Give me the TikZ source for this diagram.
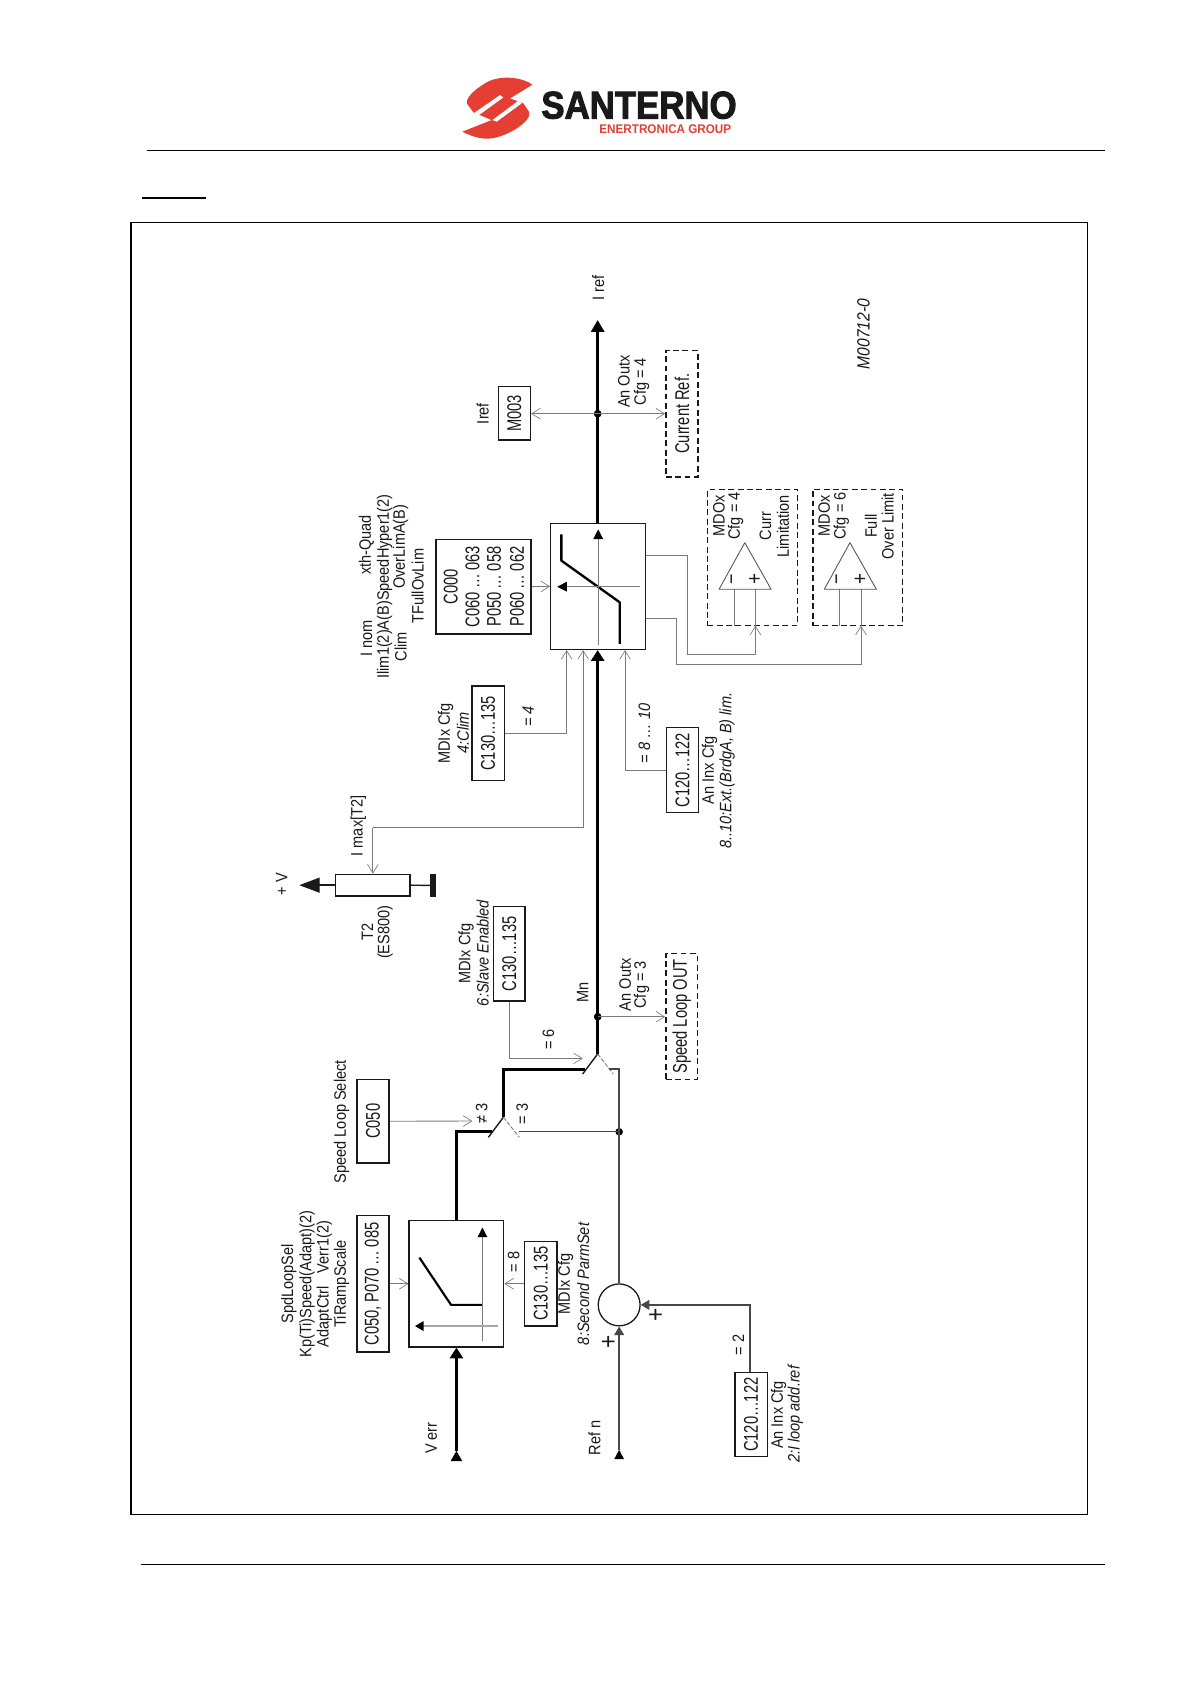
\documentclass[tikz,border=0pt]{standalone}
\usepackage{fontspec}
\usetikzlibrary{arrows.meta,calc}
\setmainfont[FakeStretch=0.88]{Liberation Sans}
\newfontfamily\boxfam[FakeStretch=0.74]{Liberation Sans}
\newfontfamily\logofam[FakeStretch=0.9,FakeBold=2.4]{Liberation Sans Bold}
\newfontfamily\subfam[FakeStretch=0.93]{Liberation Sans Bold}
\definecolor{wire}{gray}{0.48}
\definecolor{ink}{gray}{0.1}
\definecolor{logored}{HTML}{E53E33}
\tikzset{
  lb/.style={rotate=90,inner sep=0,align=center,text=ink,font={\fontsize{15.4}{17}\selectfont}},
  bx/.style={draw=ink,line width=1.3pt,inner sep=0,text=ink,font={\boxfam\fontsize{18.5}{20}\selectfont}},
  dbx/.style={draw=ink,line width=1.4pt,dash pattern=on 5.5pt off 3.2pt,inner sep=0,text=ink,font={\boxfam\fontsize{18.5}{20}\selectfont}},
  plain/.style={draw=ink,line width=1.3pt,inner sep=0},
  thin wire/.style={draw=wire,line width=0.8pt},
  open/.style={thin wire,-{Straight Barb[length=8pt,width=10pt,line width=0.6pt]}},
  mainline/.style={draw=black,line width=2.9pt},
  medline/.style={draw=ink,line width=1.3pt},
  dot/.style={circle,fill=black,inner sep=0,minimum size=7pt},
  blacktip/.style={-{Triangle[length=#1,width=9pt,color=black,fill=black]}},
}
\newcommand{\rt}[1]{\rotatebox{90}{#1}}
\begin{document}
\begin{tikzpicture}[x=1pt,y=-1pt]
\useasboundingbox[fill=white] (0,0) rectangle (1109,1568);
% page furniture
\coordinate (hl) at (137,140); \coordinate (hr) at (1029,140);
\draw[line width=1pt] (hl) -- (hr);
\coordinate (sl) at (132,184); \coordinate (sr) at (192,184);
\draw[line width=1.7pt] (sl) -- (sr);
\coordinate (fl) at (131,1457); \coordinate (fr) at (1029,1457);
\draw[line width=1.2pt] (fl) -- (fr);
\draw[line width=1pt] (122,207) rectangle (1013,1410);
% logo
\fill[logored] (495.7,78.9) .. controls (487,72) and (465,69) .. (451.6,77.6) .. controls (441,84) and (434,91) .. (434.6,96.2) -- (440.8,104.6) -- (457.8,111.8) -- (430.5,122.6) .. controls (441,128) and (450,130) .. (457.8,128.8) .. controls (472,127) and (496,113) .. (492.6,104) -- (487.3,96.2) -- (474.9,91.6) -- cycle;
\fill[white] (441.7,105) -- (465.6,88.5) -- (468.7,90.7) -- (446,107.1) -- cycle;
\fill[white] (458.5,111.8) -- (482.7,93.8) -- (485.8,96.2) -- (462.5,113.3) -- cycle;
\node[inner sep=0,text=ink] (logoa) at (595,98) {\logofam\fontsize{36}{36}\selectfont SANTERNO};
\node[inner sep=0,text=logored] (logob) at (619.5,120.5) {\subfam\fontsize{11.7}{12}\selectfont ENERTRONICA GROUP};
% ---------- boxes
\node[plain,minimum width=88pt,minimum height=117.5pt] (b1) at (425,1195.3) {};
\node[plain,minimum width=88.4pt,minimum height=117.3pt] (b2) at (557,546) {};
\node[bx,minimum width=30pt,minimum height=127pt] (pars) at (347.3,1195.5) {\rt{C050,\,P070\,…\,085}};
\node[bx,minimum width=30pt,minimum height=78pt] (c050) at (347.3,1044) {\rt{C050}};
\node[bx,minimum width=30pt,minimum height=78.7pt] (dia) at (503.5,1195.3) {\rt{C130…135}};
\node[bx,minimum width=30pt,minimum height=78.4pt] (anadd) at (699.4,1317.2) {\rt{C120…122}};
\node[bx,minimum width=29.5pt,minimum height=87.8pt] (dib) at (474.1,888.1) {\rt{C130…135}};
\node[bx,minimum width=30pt,minimum height=88.2pt] (dic) at (454.5,682.9) {\rt{C130…135}};
\node[bx,minimum width=30pt,minimum height=78.8pt] (anlim) at (635.5,717) {\rt{C120…122}};
\node[bx,minimum width=88.5pt,minimum height=88.1pt] (cpar) at (450.2,546.2) {};
\node[bx,minimum width=30pt,minimum height=49.7pt] (m003) at (478.9,384.9) {\rt{M003}};
\node[dbx,minimum width=29.4pt,minimum height=117pt] (slo) at (634.7,946.5) {\rt{Speed Loop OUT}};
\node[dbx,minimum width=30pt,minimum height=117.5pt] (cref) at (635,385.2) {\rt{Current Ref.}};
\node[dbx,minimum width=83.8pt,minimum height=127pt] (d1) at (700.6,519.1) {};
\node[dbx,minimum width=83.5pt,minimum height=127pt] (d2) at (798.7,519.1) {};
\node[plain,minimum width=69.2pt,minimum height=20.3pt] (t2) at (347.2,824.2) {};
\node[fill=ink,inner sep=0,minimum width=5.6pt,minimum height=21.2pt] (t2bar) at (403.2,824.4) {};
\node[circle,draw=ink,line width=1.2pt,inner sep=0,minimum size=39pt] (sum) at (576.5,1215) {};
% C000 box texts
\node[bx,draw=none,rotate=90] (ct1) at (419.8,546.2) {C000};
\node[bx,draw=none,rotate=90] (ct2) at (440,546.2) {C060\,…\,063};
\node[bx,draw=none,rotate=90] (ct3) at (460,546.2) {P050\,…\,058};
\node[bx,draw=none,rotate=90] (ct4) at (481.4,546.2) {P060\,…\,062};
% ---------- junctions
\coordinate (sw1) at (468.7,1040.3);
\coordinate (sw1a) at (454.7,1059);
\coordinate (sw1b) at (483.6,1059);
\coordinate (sw2) at (556.5,981.3);
\coordinate (sw2a) at (542.5,1000);
\coordinate (sw2b) at (571,1000);
\node[dot] (mn) at (556.5,946.7) {};
\node[dot] (ir) at (556.5,385.2) {};
\node[dot] (jn) at (576.5,1053.8) {};
% main path
\coordinate (vstart) at (425,1351);
\coordinate (rstart) at (576.5,1350);
\draw[mainline,-{Triangle[length=10pt,width=12pt]}] (vstart) -- (b1.south -| vstart);
\fill[black] (vstart) -- ++(-5.5,9.5) -- ++(11,0) -- cycle;
\fill[black] (rstart) -- ++(-4.5,8.5) -- ++(9,0) -- cycle;
\coordinate (k1) at (425,1053.8);
\coordinate (k2) at (468.7,995.5);
\draw[mainline,line join=miter] (b1.north -| k1) -- (k1) -- (458,1053.8);
\draw[mainline,line join=miter] (sw1) -- (k2) -- (544.7,995.5);
\draw[medline] (sw1) -- (sw1a);
\draw[medline] (sw2) -- (sw2a);
\draw[thin wire,dash pattern=on 4pt off 1.5pt] (sw1) -- (sw1b);
\draw[thin wire,dash pattern=on 4pt off 1.5pt] (sw2) -- (sw2b);
\draw[mainline] (sw2) -- (mn.center);
\draw[mainline,-{Triangle[length=10pt,width=12pt]}] (mn.center) -- (b2.south -| mn);
\draw[mainline] (b2.north -| mn) -- (ir.center);
\draw[mainline,-{Triangle[length=11pt,width=12pt]}] (ir.center) -- (556.5,298);
\fill (mn.center) circle (3.4pt);
\fill (ir.center) circle (3.4pt);
% medium right-hand path
\coordinate (k3) at (576.5,995.5);
\draw[medline,draw=ink!80] (567,995.5) -- (k3) -- (sum.north);
\draw[medline,draw=ink!80] (sw1b |- jn) -- (jn.center);
\draw[medline,draw=ink!80,-{Triangle[length=8pt,width=9pt]}] (rstart) -- (sum.south);
\coordinate (k4) at (698.5,1215);
\draw[medline,draw=ink!80,-{Triangle[length=8pt,width=9pt]}] (anadd.north -| k4) -- (k4) -- (sum.east);
% box 1 inside
\coordinate (c1a) at (390.5,1171); \coordinate (c1b) at (420,1215); \coordinate (c1c) at (449.2,1215);
\draw[line width=2pt,line join=round] (c1a) -- (c1b) -- (c1c);
\coordinate (c1d) at (449.2,1249); \coordinate (c1e) at (449.2,1143);
\draw[draw=wire,line width=0.8pt,blacktip=9pt] (c1d) -- (c1e);
\coordinate (c1f) at (464,1234.7); \coordinate (c1g) at (386.4,1234.7);
\draw[draw=gray!70,line width=1.1pt,blacktip=8pt] (c1f) -- (c1g);
% box 2 inside
\coordinate (c2a) at (522.7,497.5); \coordinate (c2b) at (522.7,522); \coordinate (c2c) at (577,560.8); \coordinate (c2d) at (577,599.6);
\draw[line width=2.2pt,line join=round] (c2a) -- (c2b) -- (c2c) -- (c2d);
\coordinate (c2e) at (557,600.6); \coordinate (c2f) at (557,492.9);
\draw[draw=wire,line width=0.8pt,blacktip=9pt] (c2e) -- (c2f);
\coordinate (c2g) at (596.3,546.3); \coordinate (c2h) at (518.8,546.3);
\draw[draw=wire,line width=0.8pt,blacktip=9pt] (c2g) -- (c2h);
% thin open-arrow connectors
\draw[open] (pars.east |- b1) -- (b1.west);
\draw[open] (dia.west) -- (b1.east |- dia);
\coordinate (k0) at (439.8,1043.8);
\draw[open] (c050.east) -- (k0);
\coordinate (k5) at (474.1,985.5);
\draw[open] (dib.south) -- (k5) -- (542.6,985.5);
\draw[open] (mn.center) -- (mn -| slo.west);
\draw[open] (ir.center) -- (ir -| m003.east);
\draw[open] (ir.center) -- (ir -| cref.west);
\draw[open] (cpar.east) -- (b2.west);
\coordinate (k6) at (527.6,682.9);
\draw[open] (dic.east) -- (k6) -- (k6 |- b2.south);
\coordinate (k7) at (582,717);
\draw[open] (anlim.west) -- (k7) -- (k7 |- b2.south);
\coordinate (k8) at (543,770.7); \coordinate (k9) at (347.2,770.7);
\draw[open] (k9) -- (t2.north);
\draw[open] (k9) -- (k8) -- (k8 |- b2.south);
% outputs of limiter
\coordinate (o1) at (601.2,517.4); \coordinate (o1a) at (640.3,517.4); \coordinate (o1b) at (640.3,609.3);
\coordinate (p1) at (703.4,548.7); \coordinate (n1) at (683.7,548.7);
\coordinate (o2) at (601.2,575.7); \coordinate (o2a) at (630,575.7); \coordinate (o2b) at (630,619);
\coordinate (p2) at (801.7,548.7); \coordinate (n2) at (781.6,548.7);
\coordinate (e1) at (703.4,582.6); \coordinate (e2) at (801.7,582.6);
\draw[open] (o1) -- (o1a) -- (o1b) -- (o1b -| p1) -- (e1);
\draw[open] (o2) -- (o2a) -- (o2b) -- (o2b -| p2) -- (e2);
\draw[thin wire] (e1) -- (p1);
\draw[thin wire] (n1 |- e1) -- (n1);
\draw[thin wire] (e2) -- (p2);
\draw[thin wire] (n2 |- e2) -- (n2);
% comparators
\coordinate (tr1) at (693.5,505.3); \coordinate (tr2) at (791.4,505.3);
\draw[thin wire,draw=ink!75,line join=round] (669.5,548.7) -- (tr1) -- (718,548.7) -- cycle;
\draw[thin wire,draw=ink!75,line join=round] (767.5,548.7) -- (tr2) -- (816,548.7) -- cycle;
% T2
\coordinate (vt) at (278.7,824.2);
\draw[medline,-{Triangle[length=19pt,width=14pt]}] (t2.west) -- (vt);
\draw[medline] (t2.east) -- (t2bar.west);
% ---------- labels
\node[lb] (l1) at (401.5,1339) {V err};
\node[lb] (l2) at (553.4,1339) {Ref n};
\node[lb] (l3) at (269,1195.5) {SpdLoopSel};
\node[lb] (l4) at (286,1195.5) {Kp(Ti)Speed(Adapt)(2)};
\node[lb] (l5) at (302,1195.5) {AdaptCtrl\hspace{12pt}Verr1(2)};
\node[lb] (l6) at (318,1195.5) {TiRampScale};
\node[lb] (l7) at (318,1044.5) {Speed Loop Select};
\node[lb] (l8) at (526.7,1195.5) {MDIx Cfg};
\node[lb] (l9) at (543,1195.5) {\itshape 8:Second ParmSet};
\node[lb] (l10) at (725,1317.5) {An Inx Cfg};
\node[lb] (l11) at (740.5,1317) {\itshape 2:I loop add.ref};
\node[lb] (l12) at (478.3,1174.8) {= 8};
\node[lb] (l13) at (448.5,1037) {≠ 3};
\node[lb] (l14) at (486.3,1037) {= 3};
\node[lb] (l15) at (510.6,968) {= 6};
\node[lb] (l16) at (687.5,1252.4) {= 2};
\node[lb,font={\fontsize{24}{24}\selectfont}] (l17) at (611.5,1224.5) {+};
\node[lb,font={\fontsize{24}{24}\selectfont}] (l18) at (567.5,1249) {+};
\node[lb] (l19) at (542.6,924) {Mn};
\node[lb] (l20) at (582,917) {An Outx};
\node[lb] (l21) at (597.5,917) {Cfg = 3};
\node[lb] (l22) at (434,887.7) {MDIx Cfg};
\node[lb] (l23) at (449.5,887.4) {\itshape 6:Slave Enabled};
\node[lb] (l24) at (262.3,823) {+ V};
\node[lb] (l25) at (342,868) {T2};
\node[lb] (l26) at (358.5,868) {(ES800)};
\node[lb] (l27) at (333.7,769) {I max[T2]};
\node[lb] (l28) at (415,682.8) {MDIx Cfg};
\node[lb] (l29) at (431,682.5) {\itshape 4:Clim};
\node[lb] (l30) at (491.7,667.3) {\itshape = 4};
\node[lb] (l31) at (600,682.8) {\itshape = 8 … 10};
\node[lb] (l32) at (660.8,717) {An Inx Cfg};
\node[lb] (l33) at (677,717.6) {\itshape 8..10:Ext.(BrdgA, B) lim.};
\node[lb] (l34) at (341.3,594.4) {I nom};
\node[lb] (l35) at (341.3,507.5) {xth-Quad};
\node[lb] (l36) at (358,546) {Ilim1(2)A(B)SpeedHyper1(2)};
\node[lb] (l37) at (373,602) {Clim};
\node[lb] (l38) at (373,509) {OverLimA(B)};
\node[lb] (l39) at (389,545.6) {TFullOvLim};
\node[lb] (l40) at (669.5,480.4) {MDOx};
\node[lb] (l41) at (685,480.4) {Cfg = 4};
\node[lb] (l42) at (712.6,490) {Curr};
\node[lb] (l43) at (729,490) {Limitation};
\node[lb] (l44) at (767.5,480.4) {MDOx};
\node[lb] (l45) at (783.5,480.4) {Cfg = 6};
\node[lb] (l46) at (811,490) {Full};
\node[lb] (l47) at (826.5,490) {Over Limit};
\node[lb,font={\fontsize{19}{20}\selectfont}] (l48) at (683.7,539.4) {−};
\node[lb,font={\fontsize{20}{20}\selectfont}] (l49) at (703.4,539.4) {+};
\node[lb,font={\fontsize{19}{20}\selectfont}] (l50) at (781.6,539.4) {−};
\node[lb,font={\fontsize{20}{20}\selectfont}] (l51) at (801.7,539.4) {+};
\node[lb] (l52) at (449.4,385) {Iref};
\node[lb] (l53) at (557,268.5) {I ref};
\node[lb] (l54) at (581,355.4) {An Outx};
\node[lb] (l55) at (597.5,355.4) {Cfg = 4};
\node[lb,font={\fontsize{16.5}{18}\selectfont}] (l56) at (804,311) {\itshape M00712-0};
\end{tikzpicture}
\end{document}
